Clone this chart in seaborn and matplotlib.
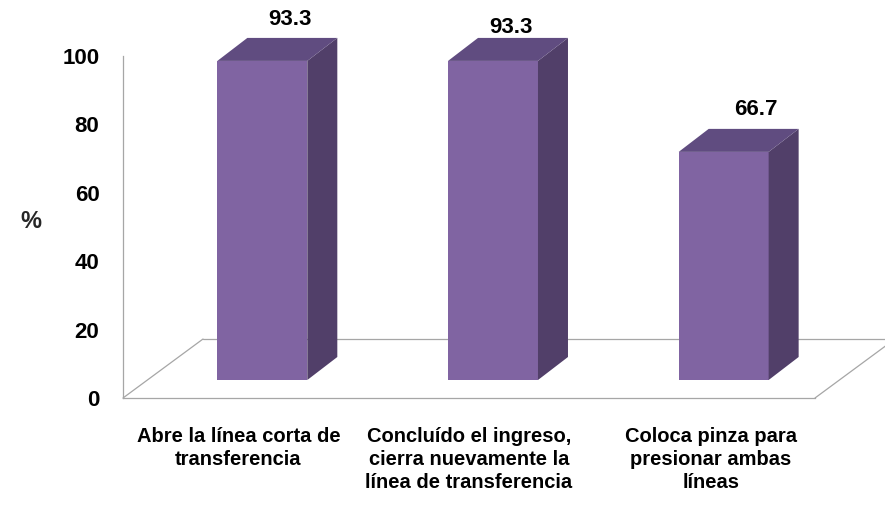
import matplotlib
matplotlib.use("Agg")
import numpy as np
import pandas as pd
import matplotlib.pyplot as plt
import matplotlib.transforms as mtransforms
from matplotlib.patches import Polygon
from matplotlib.lines import Line2D
import seaborn as sns

# Data
categories = [
    "Abre la línea corta de\ntransferencia",
    "Concluído el ingreso,\ncierra nuevamente la\nlínea de transferencia",
    "Coloca pinza para\npresionar ambas\nlíneas",
]
percentages = [93.3, 93.3, 66.7]
y_ticks = [0, 20, 40, 60, 80, 100]

# Styling
FRONT = "#8064A2"
SIDE = "#513F69"
TOP = "#604C80"
LINE = "#A6A6A6"
FLOOR_DEPTH_PX = (80, 59)   # perspective depth of the floor
BAR_LIFT_PX = (24, 18)      # bars stand half-way into the floor
BAR_DEPTH_PX = (30, 23)     # depth of each bar block
LABEL_NUDGE_PX = [(-2, 18), (-12, 10), (2, 19)]
XLABEL_NUDGE_PX = [0, 0, 11]

sns.set_theme(style="white")
plt.rcParams["font.family"] = ["Liberation Sans Narrow", "Liberation Sans", "DejaVu Sans"]
plt.rcParams["font.weight"] = "bold"

W, H = 885, 509
fig = plt.figure(figsize=(W / 100, H / 100), dpi=100)
ax = fig.add_axes([123 / W, 111 / H, 692 / W, 342 / H])

df = pd.DataFrame({"categoria": categories, "pct": percentages})
sns.barplot(data=df, x="categoria", y="pct", color=FRONT, saturation=1,
            width=0.39, ax=ax, zorder=4, linewidth=0)
ax.set_xlim(-0.5, 2.5)
ax.set_ylim(0, 100)


def px_to_data(dx, dy):
    inv = ax.transData.inverted()
    o = ax.transData.transform((0, 0))
    a = inv.transform(o)
    b = inv.transform(o + np.array([dx, dy]))
    return b - a


fdx, fdy = px_to_data(*FLOOR_DEPTH_PX)
ldx, ldy = px_to_data(*BAR_LIFT_PX)
bdx, bdy = px_to_data(*BAR_DEPTH_PX)

# Floor outline in perspective
x_lo, x_hi = ax.get_xlim()
for xs, ys in [((x_lo, x_lo + fdx), (0, fdy)),
               ((x_lo + fdx, x_hi + fdx + 1), (fdy, fdy)),
               ((x_hi, x_hi + fdx), (0, fdy))]:
    ax.add_line(Line2D(xs, ys, color=LINE, lw=0.9, zorder=1, clip_on=False))

# Turn the flat bars into blocks
for i, patch in enumerate(ax.patches[:len(percentages)]):
    x0 = patch.get_x() + ldx
    w = patch.get_width()
    h = patch.get_height()
    patch.set_x(x0)
    patch.set_y(ldy)
    patch.set_clip_on(False)
    x1 = x0 + w
    y0, y1 = ldy, ldy + h
    side = Polygon([(x1, y0), (x1 + bdx, y0 + bdy), (x1 + bdx, y1 + bdy), (x1, y1)],
                   closed=True, facecolor=SIDE, edgecolor="none", zorder=4, clip_on=False)
    top = Polygon([(x0, y1), (x1, y1), (x1 + bdx, y1 + bdy), (x0 + bdx, y1 + bdy)],
                  closed=True, facecolor=TOP, edgecolor="none", zorder=4, clip_on=False)
    ax.add_patch(side)
    ax.add_patch(top)
    nx, ny = px_to_data(*LABEL_NUDGE_PX[i])
    ax.text(x0 + w / 2 + bdx + nx, y1 + bdy + ny, f"{percentages[i]:.1f}",
            ha="center", va="center", fontsize=16, fontweight="bold",
            color="black", zorder=5, clip_on=False)

# Axes styling
for s in ["top", "right"]:
    ax.spines[s].set_visible(False)
for s in ["left", "bottom"]:
    ax.spines[s].set_color(LINE)
    ax.spines[s].set_linewidth(0.9)

ax.set_yticks(y_ticks)
ax.set_yticklabels([str(t) for t in y_ticks])
ax.tick_params(axis="y", direction="out", length=5, width=0.9, color=LINE,
               pad=12, labelsize=16, labelcolor="black")
ax.set_xticks(range(len(categories)))
ax.set_xticklabels(categories, fontsize=14.5, fontweight="bold", linespacing=1.25,
                   va="top", ha="center")
ax.tick_params(axis="x", which="major", length=0, pad=21, labelcolor="black")
ax.set_xticks([x_lo, 0.5, 1.5, x_hi], minor=True)
ax.tick_params(axis="x", which="minor", direction="out", length=7, width=0.9, color=LINE)
for lbl in ax.get_yticklabels():
    lbl.set_fontweight("bold")
for lbl, dx in zip(ax.get_xticklabels(), XLABEL_NUDGE_PX):
    lbl.set_transform(lbl.get_transform() +
                      mtransforms.ScaledTranslation(dx / 100, 0, fig.dpi_scale_trans))

ax.set_xlabel("")
ax.set_ylabel("")
fig.text(31 / W, 1 - 222 / H, "%", ha="center", va="center",
         fontsize=17, fontweight="bold")

fig.savefig("out.png", dpi=100, facecolor="white")
